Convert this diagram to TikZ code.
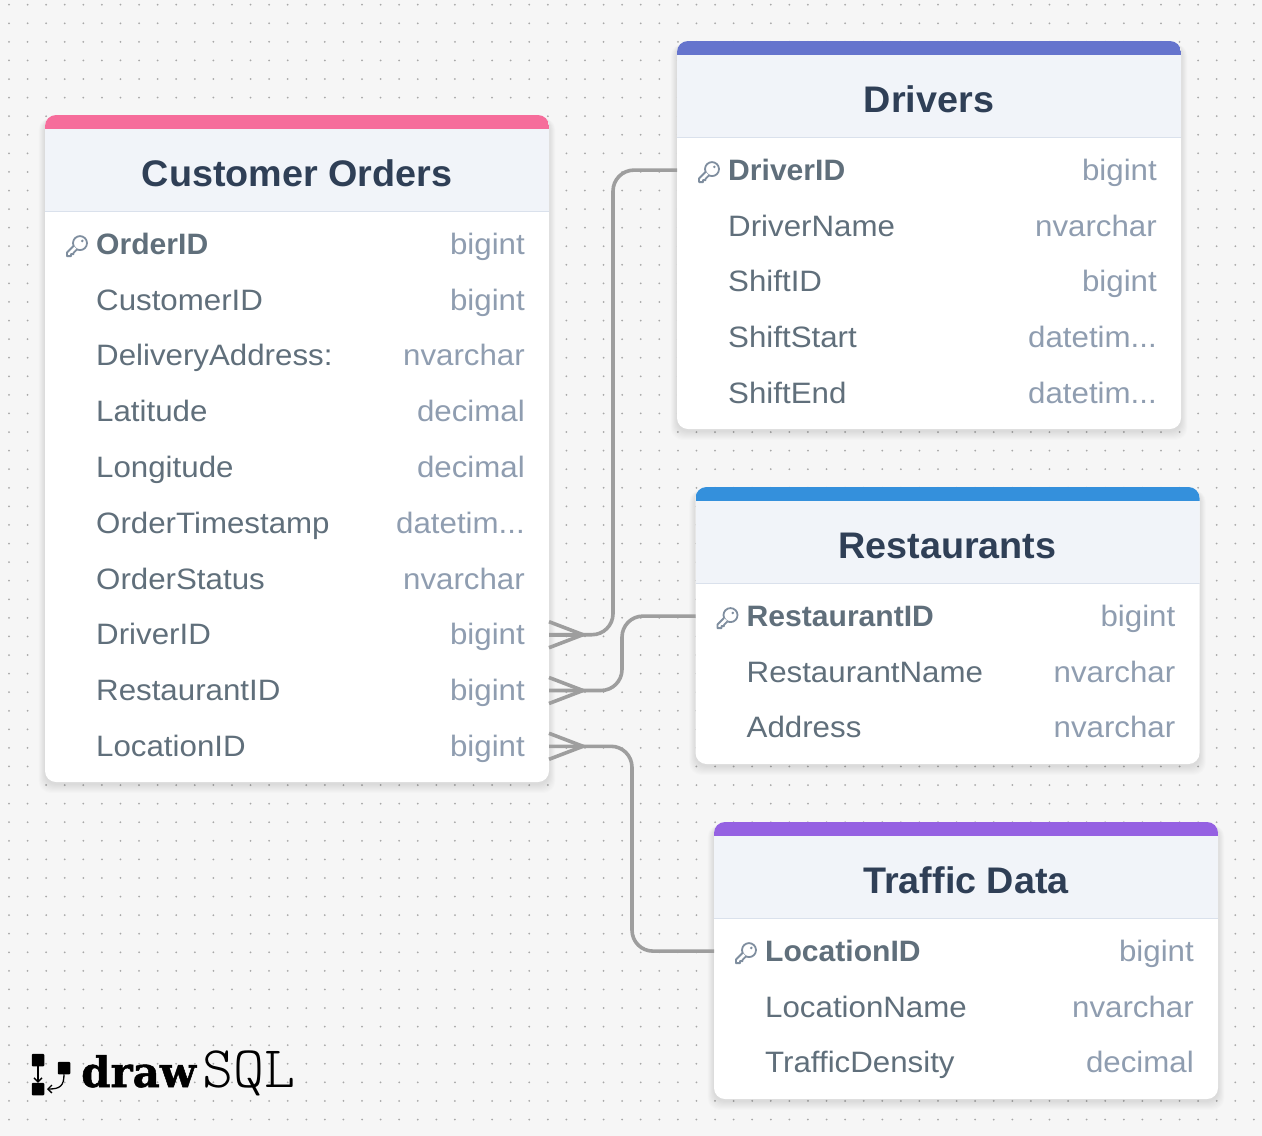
\documentclass[tikz,border=0pt]{standalone}
\usepackage{xcolor}
\usepackage{fontspec}
\setmainfont{Liberation Sans}[FakeStretch=1.06,BoldFeatures={FakeStretch=1.02}]
\newfontfamily\logofont{DejaVu Serif}[BoldFeatures={FakeBold=1.2}]
\usetikzlibrary{positioning,arrows.meta}
\definecolor{pagefill}{HTML}{F6F6F6}
\definecolor{griddot}{HTML}{A8A8A8}
\definecolor{headfill}{HTML}{F1F4F9}
\definecolor{headline}{HTML}{DAE1EC}
\definecolor{titlecol}{HTML}{2F3F56}
\definecolor{fieldcol}{HTML}{606F7B}
\definecolor{typecol}{HTML}{8F9DB0}
\definecolor{keycol}{HTML}{7F8E9F}
\definecolor{relcol}{HTML}{9E9E9E}
\definecolor{pinkbar}{HTML}{F66D9B}
\definecolor{indigobar}{HTML}{6574CD}
\definecolor{bluebar}{HTML}{3490DC}
\definecolor{purplebar}{HTML}{9561E2}
\tikzset{
  cardbox/.style={fill=white,rounded corners=11pt,minimum width=504pt,inner sep=0pt,outer sep=0pt,anchor=north west},
  rowbox/.style={minimum width=504pt,minimum height=55.8pt,inner sep=0pt,outer sep=0pt},
  titletext/.style={font=\fontsize{37}{40}\selectfont\bfseries,text=titlecol,anchor=base,inner sep=0pt},
  fieldtext/.style={font=\fontsize{29.5}{32}\selectfont,text=fieldcol,anchor=base west,inner sep=0pt},
  keytext/.style={fieldtext,font=\fontsize{29.5}{32}\selectfont\bfseries},
  typetext/.style={font=\fontsize{29.5}{32}\selectfont,text=typecol,anchor=base east,inner sep=0pt},
  keyline/.style={draw=keycol,line width=1.8pt,line join=round},
  relline/.style={draw=relcol,line width=3.6pt,rounded corners=21pt},
  footline/.style={draw=relcol,line width=3.6pt,line join=miter},
  logobox/.style={fill=black,rounded corners=1pt,minimum size=12.5pt,inner sep=0pt,outer sep=0pt},
  logoline/.style={draw=black,line width=1.3pt,-{Straight Barb[length=4pt,width=8pt]}}
}
% name, x, top, height, bar colour, title
\newcommand{\dbtable}[6]{
  \foreach \d in {1,2,...,9}
    \fill[black,opacity=0.012,rounded corners=12pt] (#2-\d*0.7,#3+3) rectangle (#2+504+\d*0.7,#3+#4+2+\d);
  \node[cardbox,minimum height=#4pt] (#1) at (#2,#3) {};
  \begin{scope}
    \clip[rounded corners=11pt] (#1.north west) rectangle (#1.south east);
    \fill[headfill] (#1.north west) rectangle ++(504,96);
    \fill[#5] (#1.north west) rectangle ++(504,14);
    \fill[headline] (#2,#3+96) rectangle ++(504,1.2);
  \end{scope}
  \node[titletext] (#1-title) at ([yshift=-71pt]#1.north) {#6};
}
\newcommand{\fieldtype}[3]{
  \node[fieldtext] (#1-name) at ([xshift=51pt,yshift=-10.2pt]#1.west) {#2};
  \node[typetext] (#1-type) at ([xshift=-24pt,yshift=-10.2pt]#1.east) {#3};
}
\newcommand{\keyfield}[3]{
  \node[keytext] (#1-name) at ([xshift=51pt,yshift=-10.2pt]#1.west) {#2};
  \node[typetext] (#1-type) at ([xshift=-24pt,yshift=-10.2pt]#1.east) {#3};
  \begin{scope}[shift={(#1.west)}]
    \draw[keyline] (35,-1) circle (7);
    \fill[keycol] (37.3,-3.2) circle (1.4);
    \fill[white] (28.6,1.8) -- (22,8.4) -- (22,12) -- (26,12) -- (26,10) -- (28.5,10) -- (28.5,8.8) -- (32,5.3) -- cycle;
    \draw[keyline] (28.6,1.8) -- (22,8.4) -- (22,12) -- (26,12) -- (26,10) -- (28.5,10) -- (28.5,8.8) -- (32,5.3);
  \end{scope}
}
\newcommand{\crowfoot}[1]{
  \draw[footline] ([yshift=13pt]#1.east) -- ([xshift=34pt]#1.east) -- ([yshift=-13pt]#1.east);
  \draw[footline] (#1.east) -- ([xshift=34pt]#1.east);
}

\begin{document}
\begin{tikzpicture}[x=1pt,y=-1pt]
\useasboundingbox (0,0) rectangle (1262,1136);
\fill[pagefill] (0,0) rectangle (1262,1136);
\foreach \i in {0,...,67}
  \foreach \j in {0,...,60}
    \fill[griddot] (9+\i*18.58,4.7+\j*18.58) circle (1);

% customer orders
\dbtable{orders}{45}{115}{667}{pinkbar}{Customer Orders}
\node[rowbox,anchor=north] (oOrderID) at ([yshift=-101.2pt]orders.north) {};
\node[rowbox,below=0pt of oOrderID] (oCustomerID) {};
\node[rowbox,below=0pt of oCustomerID] (oAddress) {};
\node[rowbox,below=0pt of oAddress] (oLatitude) {};
\node[rowbox,below=0pt of oLatitude] (oLongitude) {};
\node[rowbox,below=0pt of oLongitude] (oTimestamp) {};
\node[rowbox,below=0pt of oTimestamp] (oStatus) {};
\node[rowbox,below=0pt of oStatus] (oDriverID) {};
\node[rowbox,below=0pt of oDriverID] (oRestaurantID) {};
\node[rowbox,below=0pt of oRestaurantID] (oLocationID) {};
\keyfield{oOrderID}{OrderID}{bigint}
\fieldtype{oCustomerID}{CustomerID}{bigint}
\fieldtype{oAddress}{DeliveryAddress:}{nvarchar}
\fieldtype{oLatitude}{Latitude}{decimal}
\fieldtype{oLongitude}{Longitude}{decimal}
\fieldtype{oTimestamp}{OrderTimestamp}{datetim...}
\fieldtype{oStatus}{OrderStatus}{nvarchar}
\fieldtype{oDriverID}{DriverID}{bigint}
\fieldtype{oRestaurantID}{RestaurantID}{bigint}
\fieldtype{oLocationID}{LocationID}{bigint}

% drivers
\dbtable{drivers}{677}{41}{388}{indigobar}{Drivers}
\node[rowbox,anchor=north] (dDriverID) at ([yshift=-101.2pt]drivers.north) {};
\node[rowbox,below=0pt of dDriverID] (dDriverName) {};
\node[rowbox,below=0pt of dDriverName] (dShiftID) {};
\node[rowbox,below=0pt of dShiftID] (dShiftStart) {};
\node[rowbox,below=0pt of dShiftStart] (dShiftEnd) {};
\keyfield{dDriverID}{DriverID}{bigint}
\fieldtype{dDriverName}{DriverName}{nvarchar}
\fieldtype{dShiftID}{ShiftID}{bigint}
\fieldtype{dShiftStart}{ShiftStart}{datetim...}
\fieldtype{dShiftEnd}{ShiftEnd}{datetim...}

% restaurants
\dbtable{restaurants}{695.5}{487}{277}{bluebar}{Restaurants}
\node[rowbox,anchor=north] (rRestaurantID) at ([yshift=-101.2pt]restaurants.north) {};
\node[rowbox,below=0pt of rRestaurantID] (rRestaurantName) {};
\node[rowbox,below=0pt of rRestaurantName] (rAddress) {};
\keyfield{rRestaurantID}{RestaurantID}{bigint}
\fieldtype{rRestaurantName}{RestaurantName}{nvarchar}
\fieldtype{rAddress}{Address}{nvarchar}

% traffic data
\dbtable{traffic}{714}{822}{277}{purplebar}{Traffic Data}
\node[rowbox,anchor=north] (tLocationID) at ([yshift=-101.2pt]traffic.north) {};
\node[rowbox,below=0pt of tLocationID] (tLocationName) {};
\node[rowbox,below=0pt of tLocationName] (tDensity) {};
\keyfield{tLocationID}{LocationID}{bigint}
\fieldtype{tLocationName}{LocationName}{nvarchar}
\fieldtype{tDensity}{TrafficDensity}{decimal}

% relations
\coordinate (busA) at (613,400);
\coordinate (busB) at (622,650);
\coordinate (busC) at (632,850);
\draw[relline] (oDriverID.east) -- (oDriverID.east -| busA) -- (busA |- dDriverID.west) -- (dDriverID.west);
\draw[relline] (oRestaurantID.east) -- (oRestaurantID.east -| busB) -- (busB |- rRestaurantID.west) -- (rRestaurantID.west);
\draw[relline] (oLocationID.east) -- (oLocationID.east -| busC) -- (busC |- tLocationID.west) -- (tLocationID.west);
\crowfoot{oDriverID}
\crowfoot{oRestaurantID}
\crowfoot{oLocationID}

% logo
\node[logobox] (logoA) at (38,1060) {};
\node[logobox] (logoB) at (64,1068) {};
\node[logobox] (logoC) at (38,1089) {};
\draw[logoline] (logoA) -- (logoC.north);
\draw[logoline] (logoB.south) .. controls (64,1086) and (60,1089) .. (47,1089);
\node[font=\logofont\fontsize{42}{44}\selectfont\bfseries,anchor=base west,inner sep=0pt] (logoDraw) at (81,1087) {draw};
\node[font=\fontseries{l}\ttfamily\fontsize{59}{61}\selectfont,anchor=base west,inner sep=0pt] (logoSQL) at (202,1087) {SQL};
\end{tikzpicture}
\end{document}
